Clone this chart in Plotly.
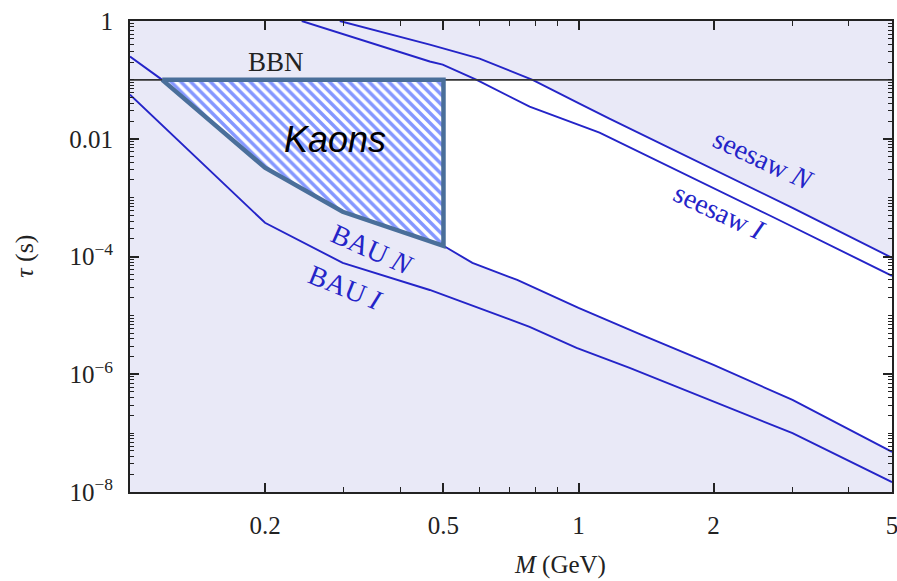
import math
import plotly.graph_objects as go

# Lifetime bounds tau(M) for the heavy neutral lepton, M in GeV, tau in s
bau_n_M = [0.1, 0.118, 0.2, 0.298, 0.5, 0.58, 0.73, 1.0, 1.37, 2.0, 3.0, 5.0]
bau_n_tau = [0.249, 0.1, 3.23e-3, 5.75e-4, 1.52e-4, 7.8e-5, 4.0e-5, 1.34e-5, 4.8e-6, 1.44e-6, 3.66e-7, 4.8e-8]

bau_i_M = [0.1, 0.2, 0.298, 0.466, 0.778, 0.99, 1.30, 2.0, 3.0, 5.0]
bau_i_tau = [0.0562, 3.74e-4, 7.8e-5, 2.7e-5, 6.4e-6, 2.8e-6, 1.28e-6, 3.4e-7, 1.0e-7, 1.47e-8]

seesaw_n_M = [0.2936, 0.466, 0.602, 0.79, 1.005, 1.172, 3.0, 5.0]
seesaw_n_tau = [1.0, 0.398, 0.230, 0.1, 0.0395, 0.022, 6.7e-4, 9.5e-5]

seesaw_i_M = [0.2415, 0.466, 0.498, 0.593, 0.778, 1.114, 2.705, 5.0]
seesaw_i_tau = [1.0, 0.205, 0.182, 0.1, 0.0351, 0.0127, 4.73e-4, 4.7e-5]

bbn_tau = 0.1
kaon_M_max = 0.5

x_tickvals = [0.2, 0.5, 1, 2, 5]
x_ticktext = ["0.2", "0.5", "1", "2", "5"]
x_minor = [0.3, 0.4, 0.6, 0.7, 0.8, 0.9, 3, 4]
y_tickvals = [1, 1e-2, 1e-4, 1e-6, 1e-8]
y_ticktext = ["1", "0.01", "10<sup>\u22124</sup>", "10<sup>\u22126</sup>", "10<sup>\u22128</sup>"]

M_lo, M_hi = 0.1, 5.0
tau_lo, tau_hi = 1e-8, 1.0

LAV = "#E9E9F7"
CURVE = "#2424C8"
INK = "#222222"
SERIF = "Liberation Serif"

fig = go.Figure()

# Allowed (white) region: below BBN, above BAU N, below seesaw N
lower = [(m, t) for m, t in zip(bau_n_M, bau_n_tau) if t <= bbn_tau]
upper = [(m, t) for m, t in zip(seesaw_n_M, seesaw_n_tau) if t <= bbn_tau]
poly = lower + upper[::-1]
fig.add_trace(go.Scatter(
    x=[p[0] for p in poly] + [poly[0][0]],
    y=[p[1] for p in poly] + [poly[0][1]],
    fill="toself", fillcolor="white", line=dict(width=0),
    mode="lines", hoverinfo="skip", showlegend=False))

# Boundary curves
for xs, ys in [(bau_n_M, bau_n_tau), (bau_i_M, bau_i_tau),
               (seesaw_n_M, seesaw_n_tau), (seesaw_i_M, seesaw_i_tau)]:
    fig.add_trace(go.Scatter(x=xs, y=ys, mode="lines",
                             line=dict(color=CURVE, width=1.9),
                             hoverinfo="skip", showlegend=False))

# BBN line
fig.add_trace(go.Scatter(x=[M_lo, M_hi], y=[bbn_tau, bbn_tau], mode="lines",
                         line=dict(color="#333333", width=1.6),
                         hoverinfo="skip", showlegend=False))

# Kaon reach: between BAU N and BBN up to M = 0.5 GeV
kedge = [(m, t) for m, t in zip(bau_n_M, bau_n_tau) if t <= bbn_tau and m <= kaon_M_max]
kx = [kedge[0][0], kaon_M_max] + [p[0] for p in kedge[::-1]]
ky = [bbn_tau, bbn_tau] + [p[1] for p in kedge[::-1]]
fig.add_trace(go.Scatter(
    x=kx, y=ky, fill="toself", mode="lines",
    line=dict(color="#4A6F9A", width=4.5),
    fillpattern=dict(shape="\\", fgcolor="#0A30FF", bgcolor="white",
                     size=7, solidity=0.5),
    hoverinfo="skip", showlegend=False))


def px2paper(px, py):
    return (px - 130) / 762.0, (492 - py) / 470.5


def label(text, px, py, angle=0, size=24, color=CURVE, family=SERIF):
    xp, yp = px2paper(px, py)
    fig.add_annotation(x=xp, y=yp, xref="paper", yref="paper", text=text,
                       showarrow=False, textangle=angle,
                       font=dict(family=family, size=size, color=color),
                       xanchor="center", yanchor="middle")


label("BBN", 276, 62, size=27, color=INK)
label("<i>Kaons</i>", 335, 140, size=36, color="black", family="Liberation Sans")
label("BAU <i>N</i>", 372, 250, angle=24, size=28)
label("BAU <i>I</i>", 345, 288, angle=22, size=28)
label("seesaw <i>N</i>", 763, 160, angle=25, size=28)
label("seesaw <i>I</i>", 719, 212, angle=25, size=28)

# Axis titles
label("<i>M</i> (GeV)", 560, 565, size=25, color=INK)
label("<i>\u03c4</i> (s)", 25, 257, angle=-90, size=26, color=INK)

axis_common = dict(
    type="log", showgrid=False, zeroline=False, automargin=False,
    showline=True, linecolor=INK, linewidth=2, mirror="ticks",
    ticks="inside", ticklen=9, tickwidth=1.5, tickcolor=INK,
    tickfont=dict(family=SERIF, size=25, color=INK),
    ticklabeloverflow="allow",
)

y_minor = []
for e in range(-8, 0):
    for k in range(2, 10):
        y_minor.append(k * 10.0 ** e)
for e in [-1, -3, -5, -7]:
    y_minor.append(10.0 ** e)

fig.update_xaxes(
    **axis_common,
    range=[math.log10(M_lo), math.log10(M_hi)],
    tickmode="array", tickvals=x_tickvals, ticktext=x_ticktext,
    minor=dict(tickmode="array", tickvals=x_minor, ticks="inside",
               ticklen=5, tickwidth=1.3, tickcolor=INK, showgrid=False),
    ticklabelstandoff=10,
)
fig.update_yaxes(
    **axis_common,
    range=[math.log10(tau_lo), math.log10(tau_hi)],
    tickmode="array", tickvals=y_tickvals, ticktext=y_ticktext,
    minor=dict(tickmode="array", tickvals=y_minor, ticks="inside",
               ticklen=4, tickwidth=1.2, tickcolor=INK, showgrid=False),
    ticklabelstandoff=10,
)

fig.update_layout(
    width=897, height=581,
    margin=dict(l=130, r=5, t=21, b=89),
    plot_bgcolor=LAV, paper_bgcolor="white",
    showlegend=False,
)

fig.write_html("out.html")
